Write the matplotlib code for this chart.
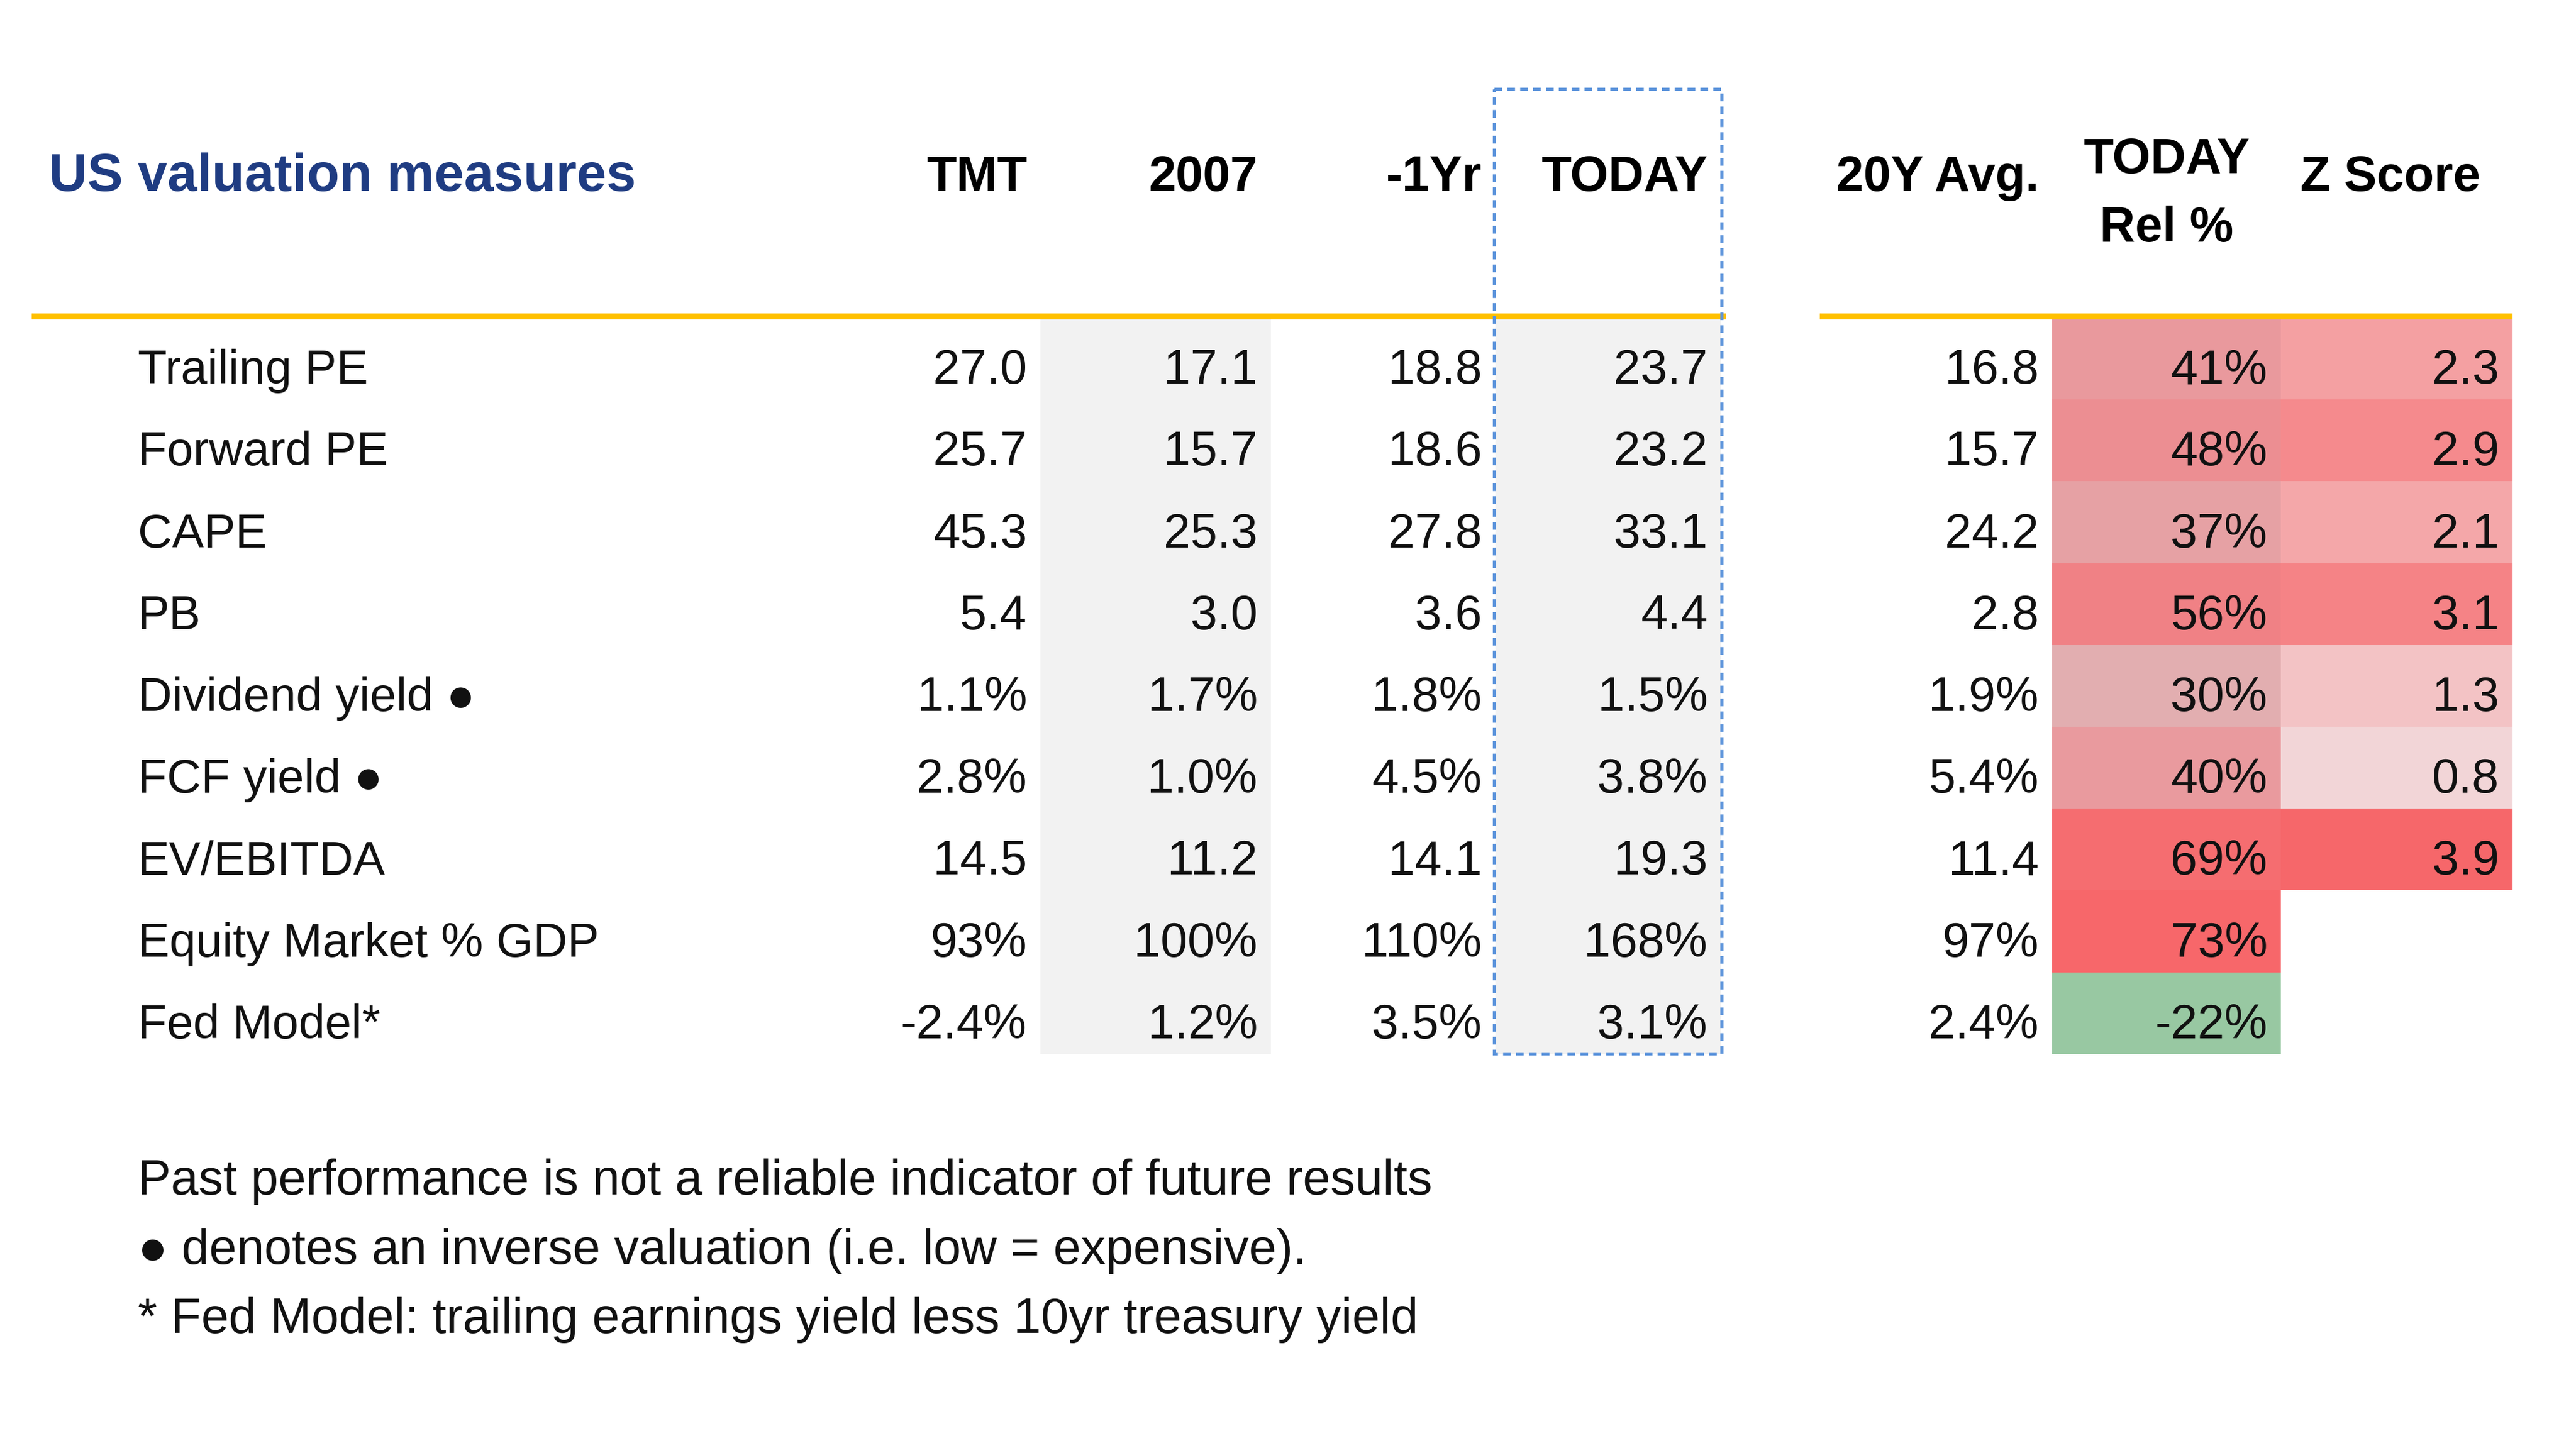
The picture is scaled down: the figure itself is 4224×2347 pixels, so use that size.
import matplotlib
matplotlib.use("Agg")
import matplotlib.pyplot as plt
from matplotlib.patches import Rectangle
from matplotlib.colors import LinearSegmentedColormap, Normalize

measures = ["Trailing PE", "Forward PE", "CAPE", "PB", "Dividend yield \u25cf",
            "FCF yield \u25cf", "EV/EBITDA", "Equity Market % GDP", "Fed Model*"]
row_fmt = ["{:.1f}", "{:.1f}", "{:.1f}", "{:.1f}", "{:.1f}%",
           "{:.1f}%", "{:.1f}", "{:.0f}%", "{:.1f}%"]

tmt = [27.0, 25.7, 45.3, 5.4, 1.1, 2.8, 14.5, 93, -2.4]
y2007 = [17.1, 15.7, 25.3, 3.0, 1.7, 1.0, 11.2, 100, 1.2]
one_yr = [18.8, 18.6, 27.8, 3.6, 1.8, 4.5, 14.1, 110, 3.5]
today = [23.7, 23.2, 33.1, 4.4, 1.5, 3.8, 19.3, 168, 3.1]
avg_20y = [16.8, 15.7, 24.2, 2.8, 1.9, 5.4, 11.4, 97, 2.4]
rel_pct = [41, 48, 37, 56, 30, 40, 69, 73, -22]
z_score = [2.3, 2.9, 2.1, 3.1, 1.3, 0.8, 3.9, None, None]

left_headers = ["TMT", "2007", "-1Yr", "TODAY"]
title = "US valuation measures"
footnotes = ["Past performance is not a reliable indicator of future results",
             "\u25cf denotes an inverse valuation (i.e. low = expensive).",
             "* Fed Model: trailing earnings yield less 10yr treasury yield"]

# ---- layout (pixel coordinates of the 4224x2347 canvas) ----
W, H = 4224, 2347
left_edges = [1330, 1706, 2084, 2452, 2822]
right_edges = [2984, 3365, 3740, 4120]
row_top, row_h = 521, 134.2
pad = 22
label_x = 226
header_base = 313
body_size, head_size = 57, 58

GOLD = "#FFC000"
GRAY = "#F2F2F2"
BLUE_DASH = "#5B93DB"
NAVY = "#1F3C82"
INK = "#111111"

plt.rcParams["font.family"] = ["Liberation Sans", "DejaVu Sans"]

fig = plt.figure(figsize=(W / 100, H / 100), dpi=100)
ax = fig.add_axes([0, 0, 1, 1])
ax.set_xlim(0, W)
ax.set_ylim(H, 0)
ax.axis("off")

n = len(measures)


def baseline(i):
    return row_top + (i + 1) * row_h - 26


# grey shaded columns (2007 and TODAY)
for c in (1, 3):
    ax.add_patch(Rectangle((left_edges[c], row_top), left_edges[c + 1] - left_edges[c],
                           n * row_h, color=GRAY, lw=0, zorder=0))

# heat-map colours
z_cmap = LinearSegmentedColormap.from_list("z", ["#F2D5D7", "#F6676A"])
z_vals = [v for v in z_score if v is not None]
z_norm = Normalize(min(z_vals), max(z_vals))

lo, hi = min(rel_pct), max(rel_pct)
pos = lambda v: (v - lo) / (hi - lo)
rel_cmap = LinearSegmentedColormap.from_list(
    "rel", [(0, "#98C8A2"), (pos(30), "#E2AEB0"), (pos(41), "#E9999D"), (1, "#F7676A")])
rel_norm = Normalize(lo, hi)

for i in range(n):
    y0 = row_top + i * row_h
    ax.add_patch(Rectangle((right_edges[1], y0), right_edges[2] - right_edges[1], row_h,
                           color=rel_cmap(rel_norm(rel_pct[i])), lw=0, zorder=0))
    if z_score[i] is not None:
        ax.add_patch(Rectangle((right_edges[2], y0), right_edges[3] - right_edges[2], row_h,
                               color=z_cmap(z_norm(z_score[i])), lw=0, zorder=0))

# gold header rules
ax.plot([52, 2830], [519, 519], color=GOLD, lw=7, solid_capstyle="butt", zorder=2)
ax.plot([right_edges[0], right_edges[-1]], [519, 519], color=GOLD, lw=7,
        solid_capstyle="butt", zorder=2)

# dashed box around TODAY
ax.add_patch(Rectangle((2450, 146), 2823 - 2450, 1728 - 146, fill=False,
                       edgecolor=BLUE_DASH, lw=3.8, linestyle=(0, (2.4, 1.6)), zorder=3))

# title and headers
ax.text(80, header_base, title, fontsize=63, fontweight="bold", color=NAVY,
        ha="left", va="baseline")
for c, h in enumerate(left_headers):
    ax.text(left_edges[c + 1] - pad, header_base, h, fontsize=head_size,
            fontweight="bold", ha="right", va="baseline")
ax.text(right_edges[1] - pad, header_base, "20Y Avg.", fontsize=head_size,
        fontweight="bold", ha="right", va="baseline")
rel_c = (right_edges[1] + right_edges[2]) / 2
ax.text(rel_c, 284, "TODAY", fontsize=head_size, fontweight="bold",
        ha="center", va="baseline")
ax.text(rel_c, 396, "Rel %", fontsize=head_size, fontweight="bold",
        ha="center", va="baseline")
ax.text((right_edges[2] + right_edges[3]) / 2 - 10, header_base, "Z Score",
        fontsize=head_size, fontweight="bold", ha="center", va="baseline")

# body
left_cols = [tmt, y2007, one_yr, today]
for i in range(n):
    yb = baseline(i)
    ax.text(label_x, yb, measures[i], fontsize=body_size - 1, ha="left",
            va="baseline", color=INK)
    for c, col in enumerate(left_cols):
        ax.text(left_edges[c + 1] - pad, yb, row_fmt[i].format(col[i]),
                fontsize=body_size, ha="right", va="baseline", color=INK)
    ax.text(right_edges[1] - pad, yb, row_fmt[i].format(avg_20y[i]),
            fontsize=body_size, ha="right", va="baseline", color=INK)
    ax.text(right_edges[2] - pad, yb, "{:.0f}%".format(rel_pct[i]),
            fontsize=body_size, ha="right", va="baseline", color=INK)
    if z_score[i] is not None:
        ax.text(right_edges[3] - pad, yb, "{:.1f}".format(z_score[i]),
                fontsize=body_size, ha="right", va="baseline", color=INK)

# footnotes
for k, note in enumerate(footnotes):
    ax.text(label_x, 1959 + k * 113.5, note, fontsize=58.5, ha="left",
            va="baseline", color=INK)

fig.savefig("out.png", dpi=100, facecolor="white")
